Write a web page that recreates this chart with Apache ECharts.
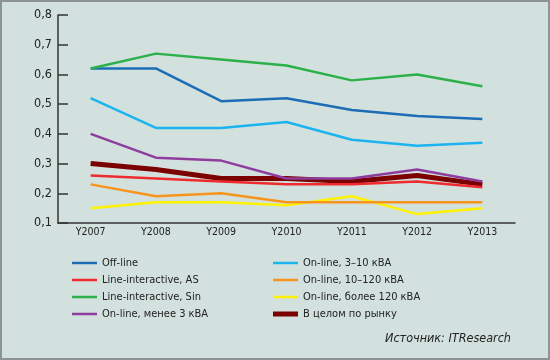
<!DOCTYPE html>
<html><head><meta charset="utf-8">
<script src="https://cdn.jsdelivr.net/npm/echarts@6/dist/echarts.min.js"></script>
<style>html,body{margin:0;padding:0;background:#d3e1de;}#c{width:550px;height:360px;box-sizing:border-box;border:2px solid #8d9594;}</style>
</head><body><div id="c"></div>
<script>
const categories = ['Y2007','Y2008','Y2009','Y2010','Y2011','Y2012','Y2013'];
const offLine = [0.62,0.62,0.51,0.52,0.48,0.46,0.45];
const lineAS = [0.26,0.25,0.24,0.23,0.23,0.24,0.22];
const lineSin = [0.62,0.67,0.65,0.63,0.58,0.60,0.56];
const onLess3 = [0.40,0.32,0.31,0.25,0.25,0.28,0.24];
const on3to10 = [0.52,0.42,0.42,0.44,0.38,0.36,0.37];
const on10to120 = [0.23,0.19,0.20,0.17,0.17,0.17,0.17];
const onMore120 = [0.15,0.17,0.17,0.16,0.19,0.13,0.15];
const market = [0.30,0.28,0.25,0.25,0.24,0.26,0.23];
const yTicks = [0.1,0.2,0.3,0.4,0.5,0.6,0.7,0.8];

const names = ['Off-line','Line-interactive, AS','Line-interactive, Sin','On-line, менее 3 кВА',
  'On-line, 3–10 кВА','On-line, 10–120 кВА','On-line, более 120 кВА','В целом по рынку'];
const colors = ['#1c6db5','#ee2b2f','#2bb04a','#8e3d9e','#1cb4ee','#f7941d','#fff200','#7b0000'];
const datas = [offLine,lineAS,lineSin,onLess3,on3to10,on10to120,onMore120,market];
const widths = [2.5,2.5,2.5,2.5,2.5,2.5,2.5,5];
const drawOrder = [6,5,7,1,3,4,0,2];

const font = '"DejaVu Sans Condensed","Liberation Sans",sans-serif';
const chart = echarts.init(document.getElementById('c'));
const series = drawOrder.map(i => ({
  name: names[i], type: 'line', data: datas[i], symbol: 'none',
  lineStyle: {color: colors[i], width: widths[i]}, itemStyle: {color: colors[i]},
  animation: false
}));
const thinIcon = 'path://M0,0H25V2.5H0Z';
const legendItems = names.map((n, i) => ({name: n, icon: i === 7 ? 'rect' : thinIcon}));
const legendCommon = {orient:'vertical', itemWidth:25, itemHeight:5, itemGap:3,
  textStyle:{fontFamily:font, fontSize:11, color:'#222', lineHeight:14}, selectedMode:false};
chart.setOption({
  backgroundColor: '#d3e1de',
  grid: {left:56, right:33, top:13, bottom:135, containLabel:false},
  xAxis: {type:'category', data:categories, boundaryGap:true,
    axisLine:{lineStyle:{color:'#333', width:1.5}},
    axisTick:{inside:true, length:5, interval:0, lineStyle:{color:'#333', width:1.5}},
    axisLabel:{fontFamily:font, fontSize:10.5, color:'#222', margin:4, interval:0}},
  yAxis: {type:'value', min:0.1, max:0.8, interval:0.1,
    axisLine:{show:true, lineStyle:{color:'#333', width:1.5}},
    axisTick:{show:true, inside:true, length:10, lineStyle:{color:'#333', width:1.5}},
    splitLine:{show:false},
    axisLabel:{fontFamily:font, fontSize:12.5, color:'#222', margin:6,
      formatter: v => yTicks.includes(Math.round(v*10)/10) ? (Math.round(v*10)/10).toFixed(1).replace('.',',') : ''}},
  legend: [
    Object.assign({left:65, top:249, data:legendItems.slice(0,4)}, legendCommon),
    Object.assign({left:266, top:249, data:legendItems.slice(4)}, legendCommon)
  ],
  graphic: [{type:'text', right:37, top:330, style:{text:'Источник: ITResearch',
    font:'italic 12.5px '+font, fill:'#222'}}],
  series: series
});
</script></body></html>
